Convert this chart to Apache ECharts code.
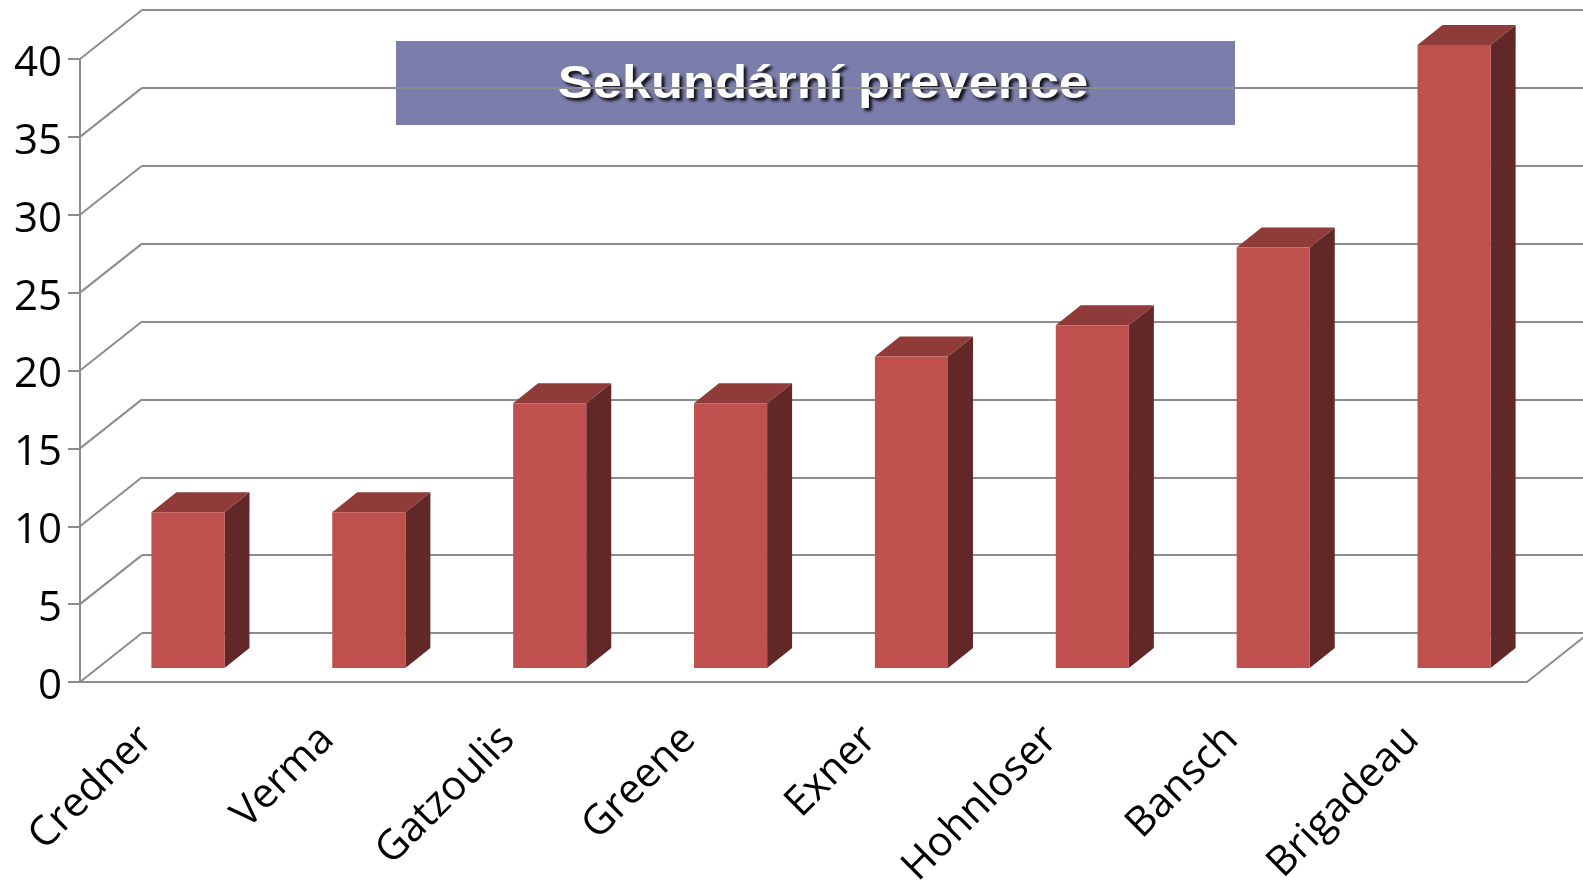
<!DOCTYPE html>
<html>
<head>
<meta charset="utf-8">
<script src="https://cdn.jsdelivr.net/npm/echarts@6/dist/echarts.min.js"></script>
<style>
  html, body { margin: 0; padding: 0; background: #ffffff; }
  #chart { width: 1583px; height: 883px; }
</style>
</head>
<body>
<div id="chart"></div>
<script>
// Studies and their values
const categories = ['Credner', 'Verma', 'Gatzoulis', 'Greene', 'Exner', 'Hohnloser', 'Bansch', 'Brigadeau'];
const values = [10, 10, 17, 17, 20, 22, 27, 40];
// Value-axis levels (also used for the side-wall lines)
const levels = [0, 5, 10, 15, 20, 25, 30, 35, 40];
const titleText = 'Sekundární prevence';

// Oblique projection of the chart box
const WALL_DX = 62, WALL_DY = -49;      // depth of floor / side wall
const BAR_SHIFT_X = 17.5, BAR_SHIFT_Y = -14; // bars stand partway into the floor
const BAR_DX = 25, BAR_DY = -20;        // depth of each bar
const BAR_RATIO = 0.404;                // bar width / category width

const LINE = '#8c8c8c';
const FRONT = '#c0504d', TOP = '#8e3b39', SIDE = '#612827';

const chart = echarts.init(document.getElementById('chart'));

chart.setOption({
  backgroundColor: '#ffffff',
  animation: false,
  grid: [
    { left: 80, right: 56, top: 59, bottom: 201, outerBoundsMode: 'none', containLabel: false },
    { left: 80 + WALL_DX, right: 56 - WALL_DX, top: 59 + WALL_DY, bottom: 201 - WALL_DY, outerBoundsMode: 'none', containLabel: false }
  ],
  xAxis: [
    {
      type: 'category', gridIndex: 0, data: categories,
      axisLine: { lineStyle: { color: LINE, width: 2 } },
      axisTick: { length: 11, lineStyle: { color: LINE, width: 2 } },
      axisLabel: {
        interval: 0, rotate: 45, margin: 27, padding: [0, 34, 0, 0],
        color: '#000000', fontFamily: 'Open Sans', fontSize: 41
      }
    },
    { type: 'category', gridIndex: 1, data: categories, show: false }
  ],
  yAxis: [
    {
      type: 'value', gridIndex: 0, min: 0, max: 40, interval: 5,
      axisLine: { show: true, lineStyle: { color: LINE, width: 2 } },
      axisTick: { show: true, length: 12, lineStyle: { color: LINE, width: 2 } },
      axisLabel: {
        margin: 18, color: '#000000', fontFamily: 'Open Sans', fontSize: 42,
        formatter: '{n|{value}}',
        rich: { n: { fontFamily: 'Open Sans', fontSize: 42, color: '#000000', padding: [10, 0, 0, 0] } }
      },
      splitLine: { show: false }
    },
    {
      type: 'value', gridIndex: 1, min: 0, max: 40, interval: 5,
      axisLine: { show: false }, axisTick: { show: false }, axisLabel: { show: false },
      splitLine: { show: true, lineStyle: { color: LINE, width: 2 } }
    }
  ],
  series: [
    {
      // side wall and floor edges
      type: 'custom', xAxisIndex: 0, yAxisIndex: 0, silent: true, z: 1,
      data: levels.map(v => [0, v]),
      renderItem: function (params, api) {
        const cs = params.coordSys;
        const y = api.coord([0, api.value(1)])[1];
        const style = { stroke: LINE, lineWidth: 2, fill: null };
        const children = [{
          type: 'line',
          shape: { x1: cs.x, y1: y, x2: cs.x + WALL_DX, y2: y + WALL_DY },
          style: style
        }];
        if (api.value(1) === 0) {
          const xr = cs.x + cs.width;
          children.push({
            type: 'line',
            shape: { x1: xr, y1: y, x2: xr + WALL_DX, y2: y + WALL_DY },
            style: style
          });
        }
        return { type: 'group', children: children };
      }
    },
    {
      // 3D bars: side, top and front faces
      type: 'custom', xAxisIndex: 0, yAxisIndex: 0, silent: true, z: 5,
      data: values.map((v, i) => [i, v]),
      renderItem: function (params, api) {
        const i = api.value(0), v = api.value(1);
        const base = api.coord([i, 0]);
        const top = api.coord([i, v]);
        const w = api.size([1, 0])[0] * BAR_RATIO;
        const L = base[0] - w / 2 + BAR_SHIFT_X, R = L + w;
        const yb = base[1] + BAR_SHIFT_Y, yt = top[1] + BAR_SHIFT_Y;
        return {
          type: 'group',
          children: [
            { type: 'polygon', shape: { points: [[R, yt], [R + BAR_DX, yt + BAR_DY], [R + BAR_DX, yb + BAR_DY], [R, yb]] }, style: { fill: SIDE } },
            { type: 'polygon', shape: { points: [[L, yt], [L + BAR_DX, yt + BAR_DY], [R + BAR_DX, yt + BAR_DY], [R, yt]] }, style: { fill: TOP } },
            { type: 'rect', shape: { x: L, y: yt, width: w, height: yb - yt }, style: { fill: FRONT } }
          ]
        };
      }
    }
  ],
  graphic: [
    {
      type: 'group', z: 100,
      children: [
        { type: 'rect', shape: { x: 396, y: 41, width: 839, height: 84 }, style: { fill: '#7b7dab' } },
        {
          type: 'text', x: 823, y: 85, scaleX: 1.14, originX: 0, originY: 0,
          style: {
            text: titleText, fill: '#ffffff',
            font: 'bold 46px "Liberation Sans"',
            align: 'center', verticalAlign: 'middle',
            textShadowColor: 'rgba(0,0,0,0.85)', textShadowBlur: 3,
            textShadowOffsetX: 3, textShadowOffsetY: 3
          }
        }
      ]
    }
  ]
});
</script>
</body>
</html>
